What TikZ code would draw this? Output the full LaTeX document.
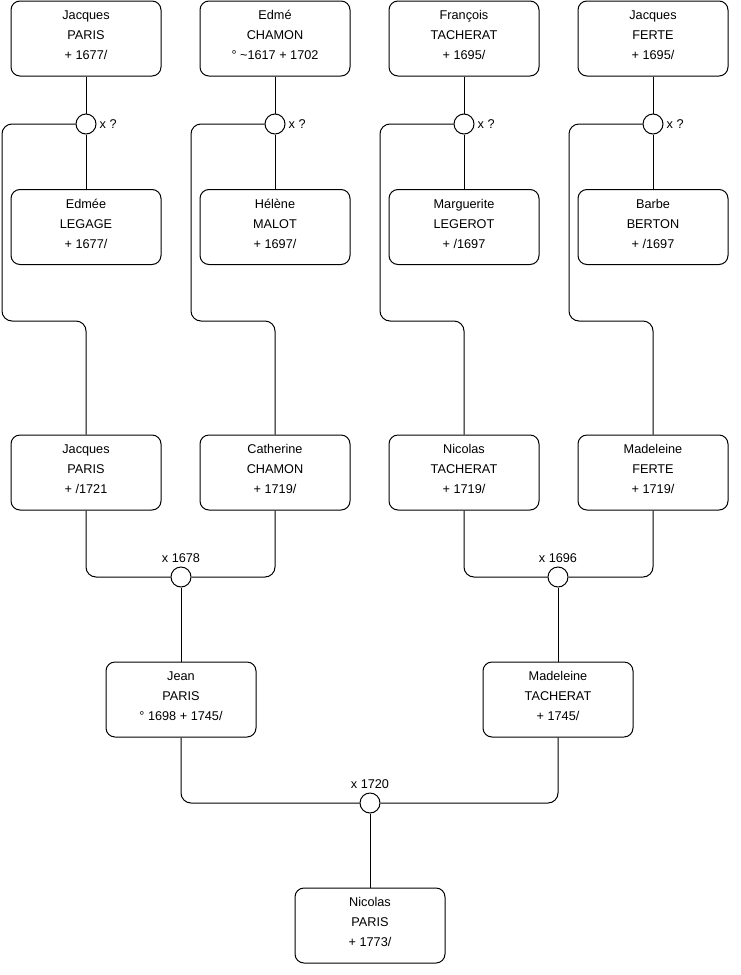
\documentclass[tikz,border=0pt]{standalone}
\usepackage{fontspec}
\setmainfont{Liberation Sans}
\begin{document}
\begin{tikzpicture}[x=1pt,y=-1pt,
  person/.style={draw, line width=1pt, rounded corners=9pt, minimum width=150pt, minimum height=75pt, inner sep=0pt, align=center, font=\fontsize{12.7}{20}\selectfont, text depth=7pt, fill=white},
  wed/.style={draw, line width=1pt, circle, minimum size=20pt, inner sep=0pt, fill=white},
  lbl/.style={font=\fontsize{12.7}{14}\selectfont, inner sep=1pt},
  link/.style={line width=1pt, rounded corners=10pt}]
\useasboundingbox (0,0) rectangle (740,975);
% coordinates of bends
\coordinate (b1) at (2,321);
\coordinate (b2) at (191,321);
\coordinate (b3) at (380,321);
\coordinate (b4) at (569,321);
% top generation
\node[person] (p1) at (86,38.5) {Jacques\\PARIS\\+ 1677/};
\node[person] (p2) at (275,38.5) {Edmé\\CHAMON\\° \textasciitilde1617 + 1702};
\node[person] (p3) at (464,38.5) {François\\TACHERAT\\+ 1695/};
\node[person] (p4) at (653,38.5) {Jacques\\FERTE\\+ 1695/};
\node[wed] (m1) at (86,124) {};
\node[wed] (m2) at (275,124) {};
\node[wed] (m3) at (464,124) {};
\node[wed] (m4) at (653,124) {};
\node[person] (s1) at (86,227) {Edmée\\LEGAGE\\+ 1677/};
\node[person] (s2) at (275,227) {Hélène\\MALOT\\+ 1697/};
\node[person] (s3) at (464,227) {Marguerite\\LEGEROT\\+ /1697};
\node[person] (s4) at (653,227) {Barbe\\BERTON\\+ /1697};
\node[person] (c1) at (86,472.5) {Jacques\\PARIS\\+ /1721};
\node[person] (c2) at (275,472.5) {Catherine\\CHAMON\\+ 1719/};
\node[person] (c3) at (464,472.5) {Nicolas\\TACHERAT\\+ 1719/};
\node[person] (c4) at (653,472.5) {Madeleine\\FERTE\\+ 1719/};
\node[wed] (w1) at (181,577) {};
\node[wed] (w2) at (558,577) {};
\node[person] (j1) at (181,699.5) {Jean\\PARIS\\° 1698 + 1745/};
\node[person] (j2) at (558,699.5) {Madeleine\\TACHERAT\\+ 1745/};
\node[wed] (w3) at (370,803) {};
\node[person] (n1) at (370,925.5) {Nicolas\\PARIS\\+ 1773/};
% labels
\foreach \i in {1,2,3,4}{
  \node[lbl, anchor=west] at ([xshift=2pt]m\i.east) {x ?};
}
\node[lbl, anchor=south] at ([yshift=3pt]w1.north) {x 1678};
\node[lbl, anchor=south] at ([yshift=3pt]w2.north) {x 1696};
\node[lbl, anchor=south] at ([yshift=3pt]w3.north) {x 1720};
% connectors
\foreach \i in {1,2,3,4}{
  \draw[link] (p\i.south) -- (m\i.north);
  \draw[link] (m\i.south) -- (s\i.north);
  \draw[link] (m\i.west) -| (b\i) -| (c\i.north);
}
\draw[link] (c1.south) |- (w1.west);
\draw[link] (c2.south) |- (w1.east);
\draw[link] (c3.south) |- (w2.west);
\draw[link] (c4.south) |- (w2.east);
\draw[link] (w1.south) -- (j1.north);
\draw[link] (w2.south) -- (j2.north);
\draw[link] (j1.south) |- (w3.west);
\draw[link] (j2.south) |- (w3.east);
\draw[link] (w3.south) -- (n1.north);
\end{tikzpicture}
\end{document}
